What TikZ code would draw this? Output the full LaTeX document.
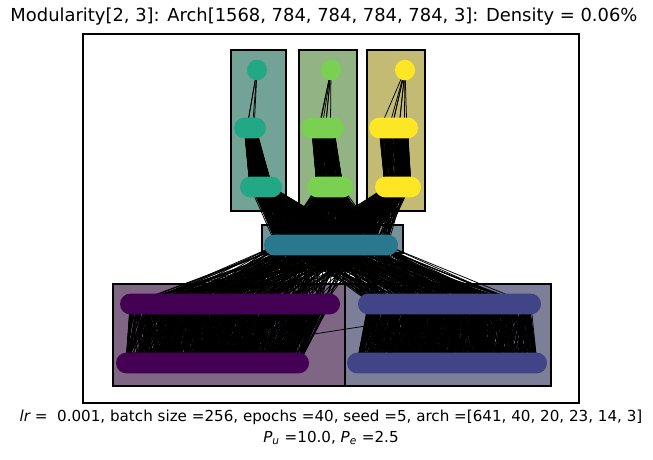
\documentclass[tikz,border=0pt]{standalone}
\usepackage{fontspec}
\setmainfont{DejaVu Sans}
\usetikzlibrary{calc}
\definecolor{vgreen}{HTML}{22A884}
\definecolor{vlime}{HTML}{7AD151}
\definecolor{vyellow}{HTML}{FDE725}
\definecolor{vteal}{HTML}{2A788E}
\definecolor{vpurple}{HTML}{440154}
\definecolor{vblue}{HTML}{414487}
\colorlet{boxbase}{black!37}
\pgfdeclarelayer{boxes}
\pgfdeclarelayer{links}
\pgfsetlayers{boxes,links,main}
\tikzset{
  modbox/.style={draw=black,line width=0.8pt,fill=#1!37!boxbase},
  pill/.style={draw=none,inner sep=0pt,minimum height=15pt,rounded corners=7.5pt},
  edge/.style={draw=black,line width=0.55pt},
  frame/.style={draw=black,line width=0.8pt},
}
% pill of neurons: name, left, right, y, colour
\newcommand{\pill}[5]{%
  \node[pill,fill=#5,minimum width={(#3-#2)*0.72pt}] (#1) at ({(#2+#3)/2},#4) {};
  \coordinate (#1-l) at ({#2+10},#4);
  \coordinate (#1-r) at ({#3-10},#4);}
% random links: source, t0, t1, target, t0, t1, count
\newcommand{\links}[7]{%
  \foreach \k in {1,...,#7}{%
    \pgfmathsetmacro\ta{#2+(#3-#2)*rnd}%
    \pgfmathsetmacro\tb{#5+(#6-#5)*rnd}%
    \draw[edge] ($(#1-l)!\ta!(#1-r)$) -- ($(#4-l)!\tb!(#4-r)$);}}
% near links: source, target, count, spread
\newcommand{\nearlinks}[4]{%
  \foreach \k in {1,...,#3}{%
    \pgfmathsetmacro\ta{rnd}%
    \pgfmathsetmacro\tb{min(1,max(0,\ta+#4*(rnd-0.5)))}%
    \draw[edge] ($(#1-l)!\ta!(#1-r)$) -- ($(#2-l)!\tb!(#2-r)$);}}

\begin{document}
\begin{tikzpicture}[x=0.72pt,y=-0.72pt]
  \useasboundingbox (0,0) rectangle (653,459);
  \pgfmathsetseed{5}
  % axes
  \draw[frame] (83,34) rectangle (579,403);
  \node[font=\fontsize{12.9}{15}\selectfont] (title) at (324,17) {Modularity[2, 3]: Arch[1568, 784, 784, 784, 784, 3]: Density = 0.06\%};
  \node[font=\fontsize{10.9}{13}\selectfont] (cap1) at (331,417) {{\itshape lr} =\ \ 0.001, batch size =256, epochs =40, seed =5, arch =[641, 40, 20, 23, 14, 3]};
  \node[font=\fontsize{10.9}{13}\selectfont] (cap2) at (331,438) {{\itshape P}\textsubscript{\itshape u} =10.0, {\itshape P}\textsubscript{\itshape e} =2.5};
  % module boxes
  \begin{pgfonlayer}{boxes}
    \draw[modbox=vgreen] (231,50) rectangle (286,211);
    \draw[modbox=vlime] (299,50) rectangle (357,211);
    \draw[modbox=vyellow] (367,50) rectangle (425,211);
    \draw[modbox=vteal] (262,225) rectangle (403,253);
    \draw[modbox=vpurple] (113,284) rectangle (345,386);
    \draw[modbox=vblue] (345,284) rectangle (551,386);
  \end{pgfonlayer}
  % layers
  \pill{o1}{247}{267}{70}{vgreen}
  \pill{o2}{321}{341}{70}{vlime}
  \pill{o3}{395}{415}{70}{vyellow}
  \pill{a1}{234}{266}{128}{vgreen}
  \pill{a2}{301}{344}{128}{vlime}
  \pill{a3}{369}{418}{128}{vyellow}
  \pill{b1}{240}{282}{187}{vgreen}
  \pill{b2}{307}{353}{187}{vlime}
  \pill{b3}{375}{421}{187}{vyellow}
  \pill{h}{264}{398}{245}{vteal}
  \pill{p1}{120}{340}{304}{vpurple}
  \pill{q1}{358}{541}{304}{vblue}
  \pill{p2}{116}{309}{363}{vpurple}
  \pill{q2}{347}{547}{363}{vblue}
  % links
  \begin{pgfonlayer}{links}
    \links{o1}{0}{1}{a1}{0.2}{0.9}{4}
    \links{o2}{0}{1}{a2}{0.1}{1}{6}
    \links{o3}{0}{1}{a3}{0}{1}{8}
    \nearlinks{a1}{b1}{150}{0.7}
    \nearlinks{a2}{b2}{150}{0.7}
    \nearlinks{a3}{b3}{150}{0.7}
    \links{b1}{0}{1}{h}{0}{0.85}{260}
    \links{b2}{0}{1}{h}{0}{1}{260}
    \links{b3}{0}{1}{h}{0.15}{1}{260}
    \links{h}{0}{1}{p1}{0}{1}{260}
    \links{h}{0}{1}{q1}{0}{1}{220}
    \nearlinks{p1}{p2}{700}{0.3}
    \links{p1}{0}{1}{p2}{0}{1}{80}
    \nearlinks{q1}{q2}{700}{0.3}
    \links{q1}{0}{1}{q2}{0}{1}{80}
    \draw[edge] ($(p2-l)!0.0!(p2-r)$) -- ($(q1-l)!0.86!(q1-r)$);
  \end{pgfonlayer}
\end{tikzpicture}
\end{document}
